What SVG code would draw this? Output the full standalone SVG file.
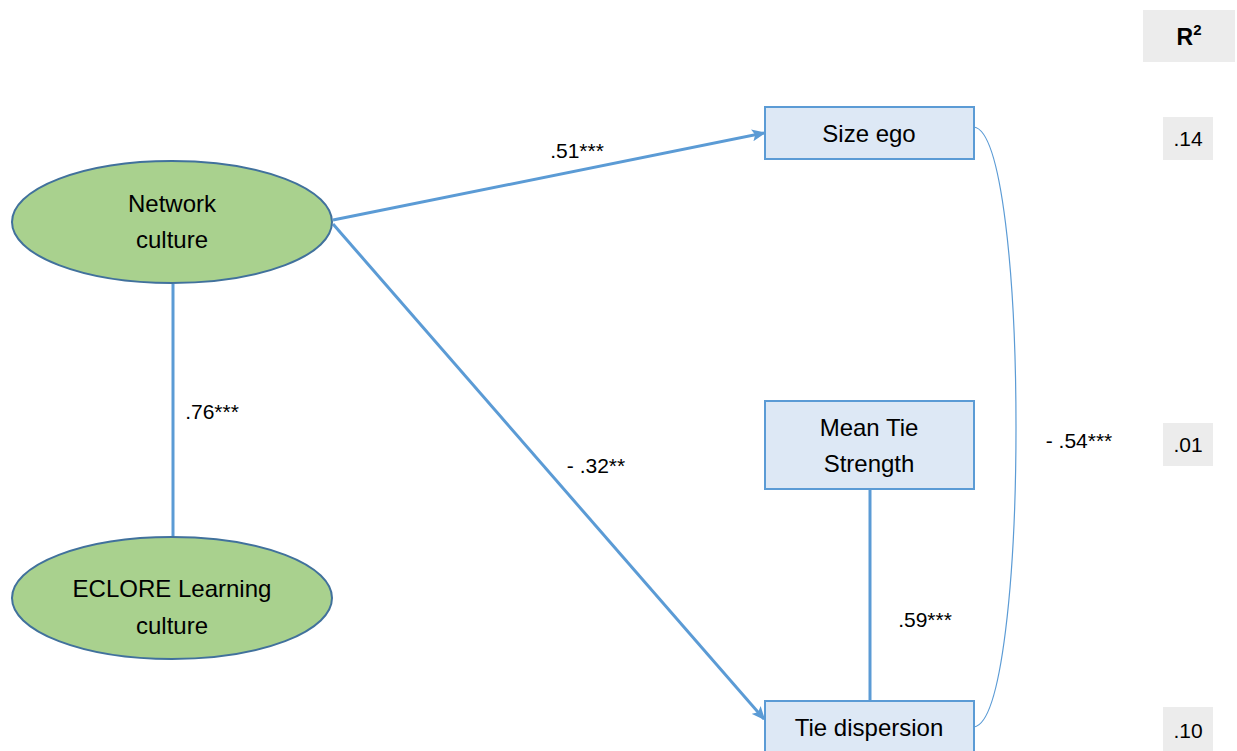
<svg xmlns="http://www.w3.org/2000/svg" width="1237" height="751" viewBox="0 0 1237 751">
<style>
.t{font-family:"Liberation Sans",Arial,sans-serif;font-size:24px;fill:#000;text-anchor:middle}
.l{font-family:"Liberation Sans",Arial,sans-serif;font-size:21px;fill:#000;text-anchor:middle}
.ell{fill:#a9d18e;stroke:#41719c;stroke-width:2}
.box{fill:#dde8f5;stroke:#5b9bd5;stroke-width:2}
.gray{fill:#ececec}
.c{stroke:#5b9bd5;stroke-width:3;fill:none}
</style>
<defs>
<marker id="ah" markerWidth="14" markerHeight="12" refX="12" refY="6" orient="auto" markerUnits="userSpaceOnUse" viewBox="0 0 14 12">
<path d="M0,0 L14,6 L0,12 L3,6 z" fill="#5b9bd5"/>
</marker>
</defs>
<g id="connectors">
<line class="c" x1="173" y1="284" x2="173" y2="536"/>
<line class="c" x1="333" y1="220" x2="764" y2="133" marker-end="url(#ah)"/>
<line class="c" x1="333" y1="224" x2="764" y2="719" marker-end="url(#ah)"/>
<line class="c" x1="870" y1="489" x2="870" y2="701"/>
<path d="M974,127 C1030,135 1030,719 974,727" fill="none" stroke="#5b9bd5" stroke-width="1.2"/>
<text class="l" x="577" y="158">.51***</text>
<text class="l" x="212" y="419">.76***</text>
<text class="l" x="596" y="473">- .32**</text>
<text class="l" x="925" y="627">.59***</text>
<text class="l" x="1079" y="448">- .54***</text>
</g>
<g id="network-culture">
<ellipse class="ell" cx="172" cy="222" rx="160" ry="61"/>
<text class="t" x="172" y="212">Network</text>
<text class="t" x="172" y="248">culture</text>
</g>
<g id="eclore">
<ellipse class="ell" cx="172" cy="598" rx="160" ry="61"/>
<text class="t" x="172" y="597">ECLORE Learning</text>
<text class="t" x="172" y="634">culture</text>
</g>
<g id="size-ego">
<rect class="box" x="765" y="107" width="209" height="52"/>
<text class="t" x="869" y="142">Size ego</text>
</g>
<g id="mean-tie">
<rect class="box" x="765" y="401" width="209" height="88"/>
<text class="t" x="869" y="436">Mean Tie</text>
<text class="t" x="869" y="472">Strength</text>
</g>
<g id="tie-dispersion">
<rect class="box" x="765" y="701" width="209" height="60"/>
<text class="t" x="869" y="736">Tie dispersion</text>
</g>
<g id="r2">
<rect class="gray" x="1143" y="10" width="92" height="52"/>
<text x="1189" y="45" style="font-family:'Liberation Sans',Arial,sans-serif;font-size:23px;font-weight:bold;text-anchor:middle">R<tspan font-size="15" dy="-10">2</tspan></text>
<rect class="gray" x="1163" y="117" width="50" height="43"/>
<text class="l" x="1188" y="146">.14</text>
<rect class="gray" x="1163" y="423" width="50" height="43"/>
<text class="l" x="1188" y="452">.01</text>
<rect class="gray" x="1163" y="707" width="50" height="44"/>
<text class="l" x="1188" y="738">.10</text>
</g>
</svg>
